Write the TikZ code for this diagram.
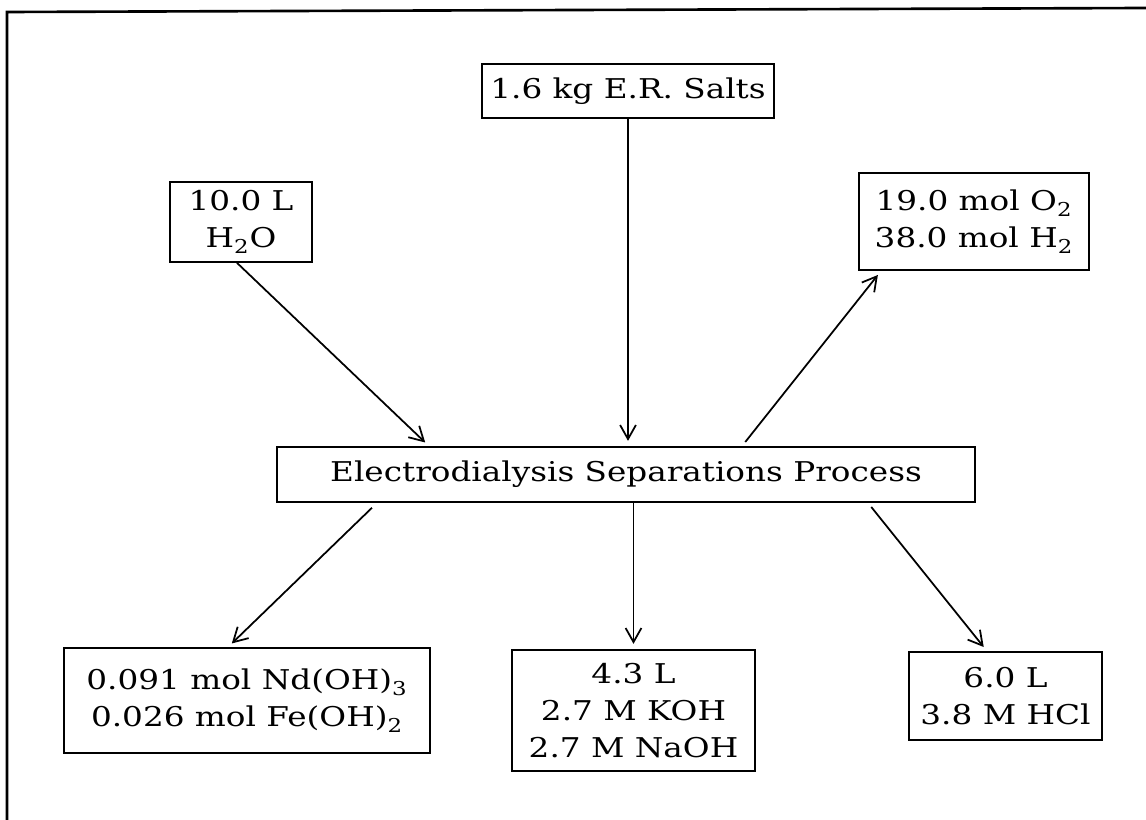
\documentclass[tikz,border=0pt]{standalone}
\usepackage{fontspec}
\setmainfont{DejaVu Serif}[FakeStretch=1.2]
\usetikzlibrary{arrows.meta}

\begin{document}
\begin{tikzpicture}[x=0.02cm,y=-0.02cm,
                    flow box/.style={rectangle,draw,line width=1pt,align=center,inner sep=0pt,
                                     font=\fontsize{15.5}{21}\selectfont}]
%%%%%
\useasboundingbox (0,0) rectangle (1146,820);
\draw[line width=1.5pt] (7,820) -- (7,12) -- (1146,8);
%%%%%
\node[flow box,minimum width=5.84cm,minimum height=1.08cm] (salts) at (628,91) {1.6 kg E.R. Salts};
  \node[flow box,minimum width=2.84cm,minimum height=1.6cm] (water) at (241,222) {10.0 L\\H\textsubscript{2}O};
  \node[flow box,minimum width=4.6cm,minimum height=1.94cm] (gas) at (974,221.5) {19.0 mol O\textsubscript{2}\\38.0 mol H\textsubscript{2}};
\node[flow box,minimum width=13.96cm,minimum height=1.1cm] (proc) at (626,474.5) {Electrodialysis Separations Process};
  \node[flow box,minimum width=7.32cm,minimum height=2.1cm] (hydrox) at (247,700.5) {0.091 mol Nd(OH)\textsubscript{3}\\0.026 mol Fe(OH)\textsubscript{2}};
  \node[flow box,minimum width=4.86cm,minimum height=2.42cm] (base) at (633.5,710.5) {4.3 L\\2.7 M KOH\\2.7 M NaOH};
 \node[flow box,minimum width=3.86cm,minimum height=1.76cm] (acid) at (1005.5,696) {6.0 L\\3.8 M HCl};
  %%%%%%%
  \path[->,>={Straight Barb[length=8pt,width=9pt]},shorten >=3pt,line width=1pt]
    ([xshift=-0.08cm]water.south) %%%%%%%%%%%%%
        edge ([xshift=-3.94cm]proc.north)
    (salts.south) %%%%%%%%%%%%%
        edge (salts.south |- proc.north)
    ([xshift=2.32cm]proc.north) %%%%%%%%%%%%%
        edge [shorten <=3pt] ([xshift=0.46cm]gas.south west)
    ([xshift=-4.98cm]proc.south)
        edge [shorten <=4pt] ([xshift=-0.38cm]hydrox.north)
    (base.north |- proc.south)
        edge (base.north)
      ([xshift=4.84cm]proc.south)
       edge [shorten <=3pt] ([xshift=-0.37cm]acid.north);
\end{tikzpicture}
\end{document}
